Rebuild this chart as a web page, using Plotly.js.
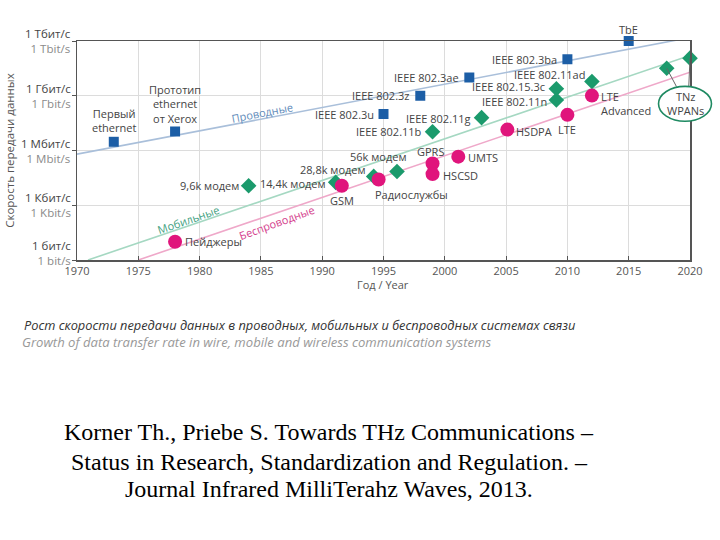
<!DOCTYPE html>
<html><head><meta charset="utf-8">
<script src="https://cdn.plot.ly/plotly-3.0.1.min.js"></script>
<style>html,body{margin:0;padding:0;background:#fff}#chart{width:720px;height:540px}</style>
</head><body><div id="chart"></div>
<script>
// ---------- DATA ----------
const wiredNames = ["Первый<br>ethernet","Прототип<br>ethernet<br>от Xerox","IEEE 802.3u","IEEE 802.3z","IEEE 802.3ae","IEEE 802.3ba","TbE"];
const wiredYears = [1973, 1978, 1995, 1998, 2002, 2010, 2015];
const wiredRates = [3e6, 1.1e7, 1e8, 1e9, 1e10, 1e11, 1e12]; // bit/s

const mobileNames = ["9,6k модем","14,4k модем","28,8k модем","56k модем","IEEE 802.11b","IEEE 802.11g","IEEE 802.11n","IEEE 802.15.3c","IEEE 802.11ad","",""];
const mobileYears = [1984, 1991.1, 1994.2, 1996.1, 1999, 2003, 2009.1, 2009.1, 2012, 2018.1, 2020];
const mobileRates = [1.17e4, 1.8e4, 3.8e4, 7.1e4, 1.07e7, 6.3e7, 5.9e8, 2.4e9, 6.0e9, 3.2e10, 1.15e11];

const wirelessNames = ["Пейджеры","GSM","Радиослужбы","GPRS","HSCSD","UMTS","HSDPA","LTE","LTE<br>Advanced"];
const wirelessYears = [1978, 1991.6, 1994.6, 1999, 1999, 2001.1, 2005.1, 2010, 2012];
const wirelessRates = [10, 1.17e4, 2.6e4, 1.95e5, 5.1e4, 4.6e5, 1.4e7, 9e7, 1.02e9];

// trend lines (endpoints)
const wiredTrendYears = [1970, 2020];
const wiredTrendRates = [6.3e5, 1.55e12];
const mobileTrendYears = [1970.9, 2020];
const mobileTrendRates = [1, 1.6e11];
const wirelessTrendYears = [1975, 2020];
const wirelessTrendRates = [1, 1.95e10];

const tnzNames = "TNz<br>WPANs";

const yTickRates = [1, 1e3, 1e6, 1e9, 1e12];
const yTickRu = ["1 бит/с","1 Кбит/с","1 Мбит/с","1 Гбит/с","1 Тбит/с"];
const yTickEn = ["1 bit/s","1 Kbit/s","1 Mbit/s","1 Гbit/s","1 Tbit/s"];
const xTickYears = [1970,1975,1980,1985,1990,1995,2000,2005,2010,2015,2020];

const seriesLabels = ["Проводные","Мобильные","Беспроводные"];
const xTitle = "Год / Year";
const yTitle = "Скорость передачи данных";
const captionRu = "Рост скорости передачи данных в проводных, мобильных и беспроводных системах связи";
const captionEn = "Growth of data transfer rate in wire, mobile and wireless communication systems";
const citation = ["Korner Th., Priebe S. Towards THz Communications –",
                  "Status in Research, Standardization and Regulation. –",
                  "Journal Infrared MilliTerahz Waves, 2013."];

// ---------- STYLE / POSITIONS ----------
const L = a => a.map(v => Math.log10(v));
const FONT = "Open Sans, DejaVu Sans, sans-serif";
const C = {blue:"#1c5ea6", green:"#1b9a6c", pink:"#e0157c",
           blueLine:"#a9bfda", greenLine:"#a5d8c2", pinkLine:"#efa8c9",
           text:"#444", axis:"#555", grid:"#dcdcdc"};
// plot area in pixels
const PL = 76.5, PR = 690, PT = 40.5, PB = 260;
const pxX = x => (x - PL) / (PR - PL);
const pxY = y => (PB - y) / (PB - PT);

// label placement: [xanchor, dx, dy] in px (dy down-positive)
const wiredLab = [["center",0,-21],["center",0,-27],["right",-9,0],["right",-10,0],["right",-9,0],["right",-9,0],["center",0,-12]];
const mobileLab = [["right",-9,0],["right",-9,1],["right",-7,-7],["center",-19,-15],["right",-10,0],["right",-10,1],["right",-8,2],["right",-10,-2],["right",-6,-7],["center",0,0],["center",0,0]];
const wirelessLab = [["left",9,0],["center",0,15],["left",-5,15],["center",-2,-12],["left",9,1],["left",9,1],["left",8,2],["center",0,15],["left",8,8]];

const traces = [
  {x: wiredTrendYears, y: L(wiredTrendRates), mode:"lines", line:{color:C.blueLine, width:1.6}, hoverinfo:"skip"},
  {x: mobileTrendYears, y: L(mobileTrendRates), mode:"lines", line:{color:C.greenLine, width:1.6}, hoverinfo:"skip"},
  {x: wirelessTrendYears, y: L(wirelessTrendRates), mode:"lines", line:{color:C.pinkLine, width:1.6}, hoverinfo:"skip"},
  {x: wiredYears, y: L(wiredRates), mode:"markers", cliponaxis:false, marker:{symbol:"square", size:10, color:C.blue}},
  {x: mobileYears, y: L(mobileRates), mode:"markers", cliponaxis:false, marker:{symbol:"diamond", size:12, color:C.green}},
  {x: wirelessYears, y: L(wirelessRates), mode:"markers", cliponaxis:false, marker:{symbol:"circle", size:14, color:C.pink}}
];

const ann = [];
function addLabels(names, xs, ys, pos) {
  names.forEach((n, i) => {
    if (!n) return;
    ann.push({x: xs[i], y: Math.log10(ys[i]), xref:"x", yref:"y", text:n, showarrow:false,
      xanchor: pos[i][0], yanchor:"middle", align: pos[i][0] === "left" ? "left" : "center",
      xshift: pos[i][1], yshift: -pos[i][2], borderpad:0, font:{family:FONT, size:11, color:C.text}});
  });
}
addLabels(wiredNames, wiredYears, wiredRates, wiredLab);
addLabels(mobileNames, mobileYears, mobileRates, mobileLab);
addLabels(wirelessNames, wirelessYears, wirelessRates, wirelessLab);

// y tick labels (two-line, two colours)
yTickRates.forEach((r, i) => {
  ann.push({xref:"paper", yref:"y", x: pxX(71), y: Math.log10(r), xanchor:"right", yanchor:"middle", showarrow:false,
    align:"right", borderpad:0,
    text: yTickRu[i] + "<br><span style='color:#8a8a8a'>" + yTickEn[i] + "</span>",
    yshift: i === 0 ? 7 : 0, font:{family:FONT, size:11.5, color:"#444"}});
});

// series labels along lines
const serPos = [[262,112,-11,"#5f8cba"],[188,219,-19,"#3f9f7f"],[276,222,-20,"#d4418d"]];
seriesLabels.forEach((t, i) => {
  ann.push({xref:"paper", yref:"paper", x: pxX(serPos[i][0]), y: pxY(serPos[i][1]), text:t, showarrow:false,
    textangle: serPos[i][2], xanchor:"center", yanchor:"middle", font:{family:FONT, size:11, color:serPos[i][3]}});
});

// TNz ellipse text
ann.push({xref:"paper", yref:"paper", x: pxX(685), y: pxY(103.5), text: tnzNames, showarrow:false,
  xanchor:"center", yanchor:"middle", font:{family:FONT, size:11, color:C.text}});

// axis titles
ann.push({xref:"paper", yref:"paper", x: pxX(383), y: pxY(285), text: xTitle, showarrow:false,
  xanchor:"center", yanchor:"middle", font:{family:FONT, size:11, color:"#555"}});
ann.push({xref:"paper", yref:"paper", x: pxX(9), y: pxY(150), text: yTitle, showarrow:false, textangle:-90,
  xanchor:"center", yanchor:"middle", font:{family:FONT, size:11.5, color:"#555"}});

// captions
ann.push({xref:"paper", yref:"paper", x: pxX(21), y: pxY(325), text: "<i>" + captionRu + "</i>", showarrow:false,
  xanchor:"left", yanchor:"middle", font:{family:FONT, size:12.8, color:"#333"}});
ann.push({xref:"paper", yref:"paper", x: pxX(19), y: pxY(342), text: "<i>" + captionEn + "</i>", showarrow:false,
  xanchor:"left", yanchor:"middle", font:{family:FONT, size:13.1, color:"#999"}});
const citY = [432, 462, 490];
citation.forEach((t, i) => {
  ann.push({xref:"paper", yref:"paper", x: pxX(329), y: pxY(citY[i]), text: t, showarrow:false,
    xanchor:"center", yanchor:"middle", font:{family:"Liberation Serif, Times New Roman, serif", size:24, color:"#000"}});
});

const shapes = [
  {type:"line", xref:"x", yref:"y", x0: mobileYears[9], y0: Math.log10(mobileRates[9]), x1: 2018.9, y1: 9.5, line:{color:"#666", width:1}, layer:"above"},
  {type:"line", xref:"x", yref:"y", x0: mobileYears[10], y0: Math.log10(mobileRates[10]), x1: 2019.9, y1: 9.5, line:{color:"#666", width:1}, layer:"above"},
  {type:"circle", xref:"paper", yref:"paper", x0: pxX(658.5), x1: pxX(711.5), y0: pxY(121), y1: pxY(86),
    line:{color:"#1f8a62", width:1.6}, fillcolor:"#fff", layer:"above"}
];

const layout = {
  width:720, height:540, paper_bgcolor:"#fff", plot_bgcolor:"#fff",
  margin:{l:PL, r:720-PR, t:PT, b:540-PB, pad:0},
  showlegend:false,
  xaxis:{range:[1970,2020], tickvals:xTickYears, ticktext:xTickYears.map(String), ticks:"inside", ticklen:4, tickcolor:C.axis,
    showgrid:true, gridcolor:C.grid, gridwidth:1, showline:true, linecolor:C.axis, linewidth:1.5, mirror:true, zeroline:false,
    tickfont:{family:FONT, size:11, color:"#555"}},
  yaxis:{range:[0,12], tickvals:L(yTickRates), showticklabels:false, ticks:"outside", ticklen:4, tickcolor:C.axis,
    showgrid:true, gridcolor:C.grid, gridwidth:1, showline:true, linecolor:C.axis, linewidth:1.5, mirror:true, zeroline:false},
  annotations: ann, shapes: shapes,
  font:{family:FONT}
};
Plotly.newPlot("chart", traces, layout, {staticPlot:true});
</script></body></html>
